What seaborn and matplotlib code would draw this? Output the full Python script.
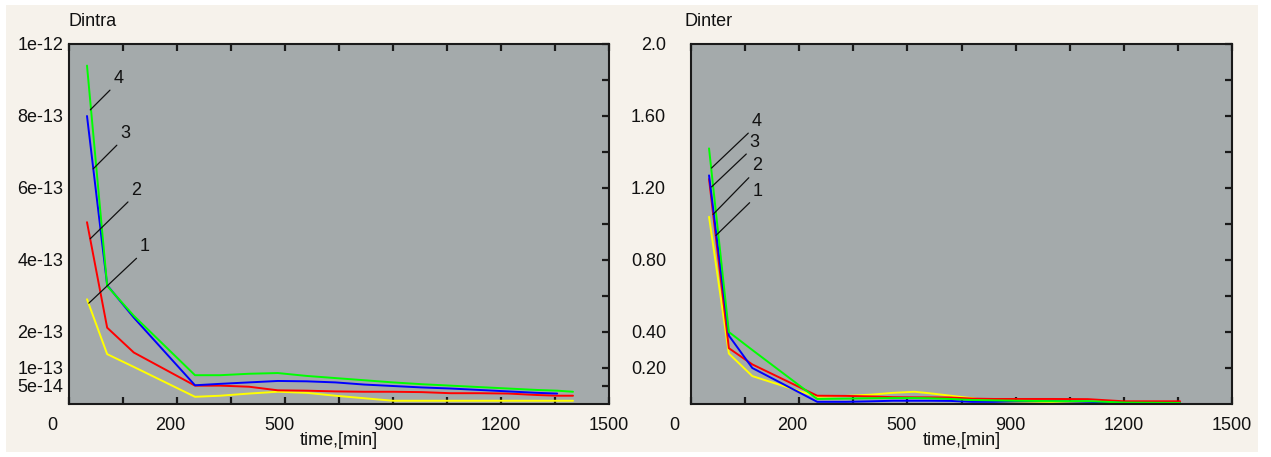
import numpy as np
import pandas as pd
import matplotlib
matplotlib.use("Agg")
import matplotlib.pyplot as plt
import seaborn as sns
from matplotlib.transforms import ScaledTranslation
from matplotlib.patches import Rectangle

# ---------------- data ----------------
series_names = ["1", "2", "3", "4"]
series_colors = ["#ffff00", "#ff0000", "#0000ff", "#00ff00"]

time_intra = [50, 106, 180, 350, 420, 500, 580, 660, 740, 820, 900, 980,
              1060, 1140, 1220, 1300, 1356, 1400]
dintra_1 = [2.91e-13, 1.385e-13, 1.03e-13, 2.0e-14, 2.3e-14, 2.9e-14, 3.4e-14,
            3.1e-14, 2.3e-14, 1.6e-14, 9e-15, 9e-15, 9e-15, 9e-15, 9e-15,
            9e-15, 9e-15, 9e-15]
dintra_2 = [5.05e-13, 2.12e-13, 1.43e-13, 5.1e-14, 5.1e-14, 4.8e-14, 3.8e-14,
            3.7e-14, 3.5e-14, 3.4e-14, 3.4e-14, 3.3e-14, 3.0e-14, 3.0e-14,
            2.9e-14, 2.5e-14, 2.3e-14, 2.3e-14]
dintra_3 = [8.0e-13, 3.30e-13, 2.40e-13, 5.2e-14, 5.6e-14, 6.0e-14, 6.4e-14,
            6.3e-14, 6.0e-14, 5.4e-14, 5.0e-14, 4.6e-14, 4.3e-14, 3.9e-14,
            3.5e-14, 3.1e-14, 2.9e-14, np.nan]
dintra_4 = [9.4e-13, 3.28e-13, 2.45e-13, 8.0e-14, 8.0e-14, 8.4e-14, 8.6e-14,
            7.8e-14, 7.2e-14, 6.6e-14, 6.0e-14, 5.5e-14, 5.1e-14, 4.7e-14,
            4.3e-14, 3.9e-14, 3.7e-14, 3.4e-14]

time_inter = [50, 105, 170, 350, 430, 500, 560, 620, 660, 720, 780, 840, 900,
              1000, 1100, 1200, 1356]
dinter_1 = [1.04, 0.28, 0.155, 0.040, 0.045, 0.052, 0.062, 0.068, 0.060, 0.046,
            0.032, 0.015, 0.007, 0.006, 0.006, 0.006, 0.006]
dinter_2 = [1.25, 0.31, 0.22, 0.046, 0.045, 0.042, 0.038, 0.037, 0.037, 0.036,
            0.030, 0.028, 0.028, 0.028, 0.027, 0.015, 0.015]
dinter_3 = [1.27, 0.38, 0.20, 0.012, 0.012, 0.015, 0.018, 0.018, 0.018, 0.017,
            0.012, 0.012, 0.014, 0.016, 0.012, 0.006, 0.006]
dinter_4 = [1.42, 0.40, 0.30, 0.028, 0.030, 0.032, 0.033, 0.033, 0.032, 0.028,
            0.022, 0.020, 0.018, 0.016, 0.016, 0.008, 0.006]

# x ticks every 150 min; only every second one carries a label
x_tick_values = [0, 150, 300, 450, 600, 750, 900, 1050, 1200, 1350, 1500]
x_tick_labels = ["0", "", "200", "", "500", "", "900", "", "1200", "", "1500"]

intra_tick_values = [5e-14, 1e-13, 2e-13, 3e-13, 4e-13, 5e-13, 6e-13, 7e-13,
                     8e-13, 9e-13, 1e-12]
intra_tick_labels = ["5e-14", "1e-13", "2e-13", "", "4e-13", "", "6e-13", "",
                     "8e-13", "", "1e-12"]
inter_tick_values = [0.2, 0.4, 0.6, 0.8, 1.0, 1.2, 1.4, 1.6, 1.8, 2.0]
inter_tick_labels = ["0.20", "0.40", "", "0.80", "", "1.20", "", "1.60", "", "2.0"]

# annotation anchor points (time, value) for labels 1..4
intra_label_t = [55, 59, 67, 59]
intra_label_v = [2.80e-13, 4.59e-13, 6.53e-13, 8.17e-13]
inter_label_t = [69, 61, 57, 57]
inter_label_v = [0.936, 1.053, 1.206, 1.311]

# ---------------- style ----------------
sns.set_theme(style="white", rc={"xtick.bottom": True, "xtick.top": True,
                                 "ytick.right": True,
                                 "xtick.direction": "in",
                                 "ytick.direction": "in"})
plt.rcParams["font.family"] = ["Liberation Sans", "DejaVu Sans"]
FS = 13
BG_FIG = "#f6f2eb"
BG_AX = "#a4aaab"
TICK_C = "#1a1a1a"

fig = plt.figure(figsize=(12.71, 4.57), dpi=100, facecolor="white")
fig.patches.append(Rectangle((6 / 1271, 5 / 457), 1252 / 1271, 447 / 457,
                             transform=fig.transFigure, facecolor=BG_FIG,
                             edgecolor="none", zorder=-10))

ax1 = fig.add_axes([69 / 1271, 53 / 457, 540 / 1271, 360 / 457])
ax2 = fig.add_axes([691 / 1271, 53 / 457, 541 / 1271, 360 / 457])


def long_df(t, ys):
    rows = []
    for name, y in zip(series_names, ys):
        for ti, yi in zip(t, y):
            rows.append({"time": ti, "value": yi, "series": name})
    return pd.DataFrame(rows).dropna()


df_intra = long_df(time_intra, [dintra_1, dintra_2, dintra_3, dintra_4])
df_inter = long_df(time_inter, [dinter_1, dinter_2, dinter_3, dinter_4])
palette = dict(zip(series_names, series_colors))

# horizontal nudges (pixels) of the labelled x tick texts
label_dx = [-17, 0, -7, 0, -6, 0, -5, 0, 0, 0, 0]


def style_axes(ax, ymax, yvals, ylabels, ypad, title, title_dx):
    ax.set_facecolor(BG_AX)
    ax.set_xlim(0, 1500)
    ax.set_ylim(0, ymax)
    for s in ax.spines.values():
        s.set_visible(True)
        s.set_color(TICK_C)
        s.set_linewidth(1.5)
    ax.set_xticks(x_tick_values)
    ax.set_xticklabels(x_tick_labels)
    ax.xaxis.set_ticks_position("both")
    ax.tick_params(axis="x", which="major", direction="in", top=True,
                   bottom=True, length=5, width=1.6, color=TICK_C,
                   labelsize=FS, pad=9, labelcolor="#111111")
    ax.set_yticks(yvals)
    ax.set_yticklabels(ylabels)
    ax.tick_params(axis="y", which="major", direction="in", left=False,
                   right=True, length=5, width=1.6, color=TICK_C,
                   labelsize=FS, pad=ypad, labelcolor="#111111")
    for lab, dx in zip(ax.get_xticklabels(), label_dx):
        lab.set_transform(lab.get_transform() +
                          ScaledTranslation(dx / 100, 0, fig.dpi_scale_trans))
    ax.set_xlabel("time,[min]", fontsize=FS, labelpad=-1, color="#111111")
    ax.set_ylabel("")
    ax.annotate(title, xy=(0, 1), xycoords="axes fraction",
                xytext=(title_dx, 14), textcoords="offset pixels",
                ha="left", va="bottom", fontsize=FS, color="#111111")


for ax, df in ((ax1, df_intra), (ax2, df_inter)):
    sns.lineplot(data=df, x="time", y="value", hue="series", palette=palette,
                 hue_order=series_names, estimator=None, sort=False,
                 legend=False, linewidth=1.4, ax=ax)

style_axes(ax1, 1e-12, intra_tick_values, intra_tick_labels, 4, "Dintra", 0)
style_axes(ax2, 2.0, inter_tick_values, inter_tick_labels, 18, "Dinter", -7)

intra_offsets = [(51, 48), (41, 40), (27, 27), (23, 23)]
inter_offsets = [(37, 36), (39, 40), (38, 36), (40, 38)]

for ax, ts, vs, offs in ((ax1, intra_label_t, intra_label_v, intra_offsets),
                         (ax2, inter_label_t, inter_label_v, inter_offsets)):
    for name, t, v, off in zip(series_names, ts, vs, offs):
        ax.annotate(name, xy=(t, v), xytext=off, textcoords="offset pixels",
                    ha="left", va="bottom", fontsize=FS, color="#111111",
                    arrowprops=dict(arrowstyle="-", color="#111111", lw=0.9,
                                    shrinkA=0, shrinkB=0, relpos=(0, 0)))

fig.savefig("out.png", dpi=100, facecolor="white")
